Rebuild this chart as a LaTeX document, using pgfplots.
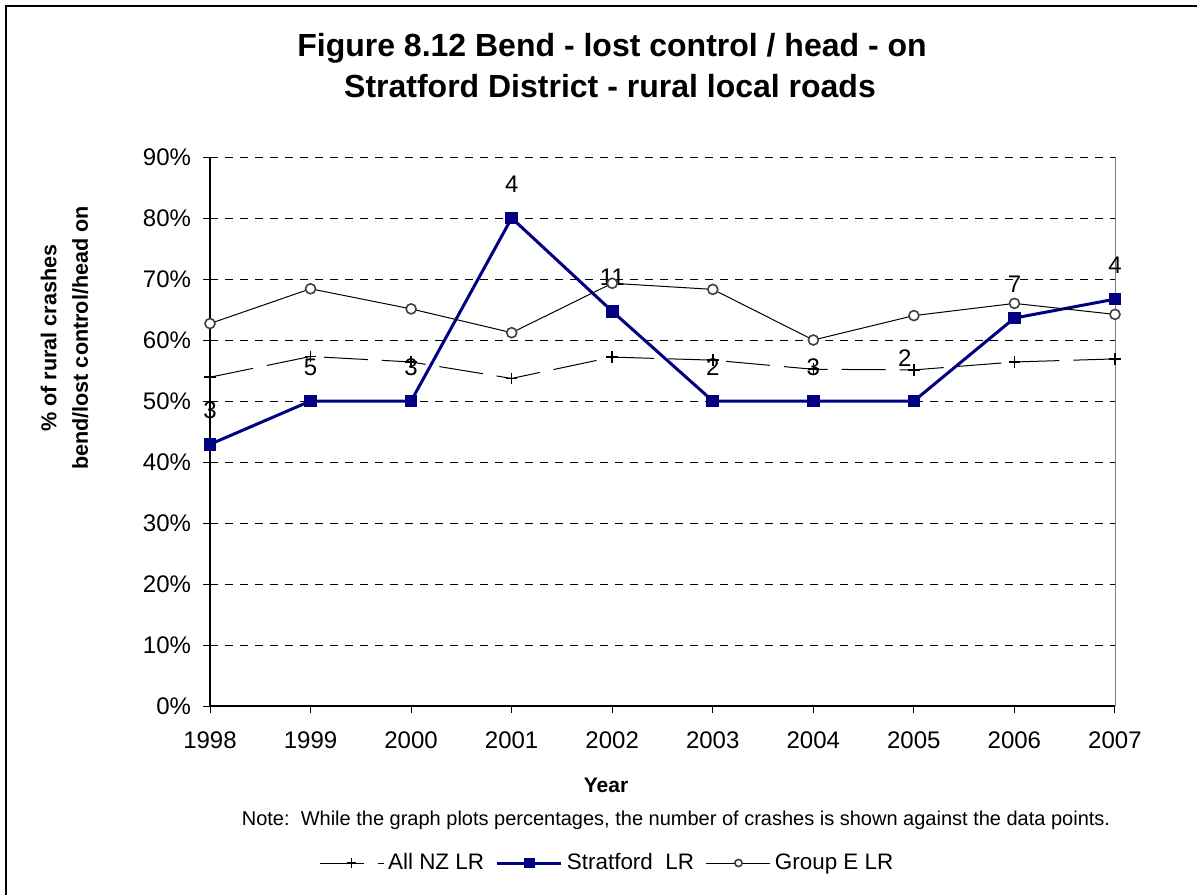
\documentclass[border=0pt]{standalone}
\usepackage{pgfplots}
\usepackage{pgfplotstable}
\pgfplotsset{compat=1.18}
\usepackage{fontspec}
\setmainfont{Liberation Sans}
\definecolor{navyS}{RGB}{0,0,128}
\definecolor{grayE}{RGB}{64,64,64}

\pgfplotstableread{
year val
1998 53.9
1999 57.3
2000 56.4
2001 53.7
2002 57.2
2003 56.7
2004 55.2
2005 55.1
2006 56.4
2007 56.9
}\allnz

\pgfplotstableread{
year val lab dx dy
1998 42.9 3 0 0
1999 50.0 5 0 0
2000 50.0 3 0 0
2001 80.0 4 0 0
2002 64.7 11 0 0
2003 50.0 2 0 0
2004 50.0 3 0 0
2005 50.0 2 -4.5 4.5
2006 63.6 7 0 0
2007 66.7 4 0 0
}\strat

\pgfplotstableread{
year val
1998 62.7
1999 68.4
2000 65.1
2001 61.2
2002 69.3
2003 68.3
2004 60.0
2005 64.0
2006 66.0
2007 64.2
}\groupe

\begin{document}
\begin{tikzpicture}
\begin{axis}[
  at={(0,0)}, anchor=south west,
  scale only axis, width=452.5pt, height=274.5pt,
  xmin=1998, xmax=2007, ymin=0, ymax=90,
  axis x line=bottom, axis y line=left,
  axis line style={-, black, line width=0.6pt},
  xtick={1998,1999,...,2007}, ytick={0,10,...,90},
  tick align=outside, major tick length=3.5pt,
  tick style={black, line width=0.5pt},
  ymajorgrids,
  major grid style={black, line width=0.5pt, dash pattern=on 4pt off 3.5pt},
  /pgf/number format/assume math mode=true,
  yticklabel={\pgfmathprintnumber{\tick}\%},
  xticklabel style={/pgf/number format/1000 sep={}, yshift=-6pt},
  yticklabel style={xshift=-2.5pt},
  tick label style={font=\fontsize{12}{14}\selectfont},
  clip=false,
  legend style={at={(0.44,-0.286)}, anchor=center, draw=none, fill=none,
    font=\fontsize{11.2}{13}\selectfont,
    /tikz/every even column/.append style={column sep=4pt}},
  legend columns=3,
  legend cell align=left,
]
\addplot[black, line width=0.5pt, dash pattern=on 22pt off 7pt,
  mark=+, mark size=2.9pt, mark options={solid, line width=0.8pt},
  legend image code/.code={\draw[mark repeat=2,mark phase=2, mark size=2.3pt] plot coordinates {(0pt,0pt) (16pt,0pt) (32pt,0pt)};}]
  table[x=year,y=val]{\allnz};
\addlegendentry{All NZ LR}
\addplot[navyS, line width=1.5pt, mark=square*, mark size=2.9pt,
  mark options={solid, fill=navyS, line width=0.5pt},
  legend image code/.code={\draw[mark repeat=2,mark phase=2, mark size=2.4pt] plot coordinates {(0pt,0pt) (16pt,0pt) (32pt,0pt)};},
  nodes near coords, point meta=explicit symbolic,
  visualization depends on={\thisrow{dx} \as \labdx},
  visualization depends on={\thisrow{dy} \as \labdy},
  nodes near coords style={anchor=base, inner sep=0pt, text=black,
     font=\fontsize{12}{14}\selectfont, xshift=\labdx pt, yshift=13pt+\labdy pt}]
  table[x=year,y=val,meta=lab]{\strat};
\addlegendentry{Stratford\ \ LR}
\addplot[black, line width=0.5pt, mark=*, mark size=2.5pt,
  mark options={solid, draw=grayE, fill=white, line width=0.8pt},
  legend image code/.code={\draw[mark repeat=2,mark phase=2, mark size=1.8pt] plot coordinates {(0pt,0pt) (16pt,0pt) (32pt,0pt)};}]
  table[x=year,y=val]{\groupe};
\addlegendentry{Group E LR}
\draw[gray, line width=0.5pt] (rel axis cs:1,0) -- (rel axis cs:1,1);
\end{axis}
\node[anchor=base, font=\fontsize{16}{19}\selectfont\bfseries] at (201pt,324.5pt) {Figure 8.12 Bend - lost control / head - on};
\node[anchor=base, font=\fontsize{16}{19}\selectfont\bfseries] at (200pt,304.25pt) {Stratford District - rural local roads};
\node[rotate=90, align=center, anchor=center, font=\fontsize{10.8}{15.75}\selectfont\bfseries] at (-72.75pt,184pt) {\% of rural crashes\\bend/lost control/head on};
\node[anchor=base, font=\fontsize{10.5}{12}\selectfont\bfseries] at (198pt,-43pt) {Year};
\node[anchor=base, font=\fontsize{10}{12}\selectfont] at (233pt,-59.8pt) {Note:\ \ While the graph plots percentages, the number of crashes is shown against the data points.};
\draw[line width=1pt] (-101.75pt,-130pt) rectangle (530pt,349.75pt);
\pgfresetboundingbox
\useasboundingbox (-105pt,-94pt) rectangle (493.5pt,353pt);
\end{tikzpicture}
\end{document}
